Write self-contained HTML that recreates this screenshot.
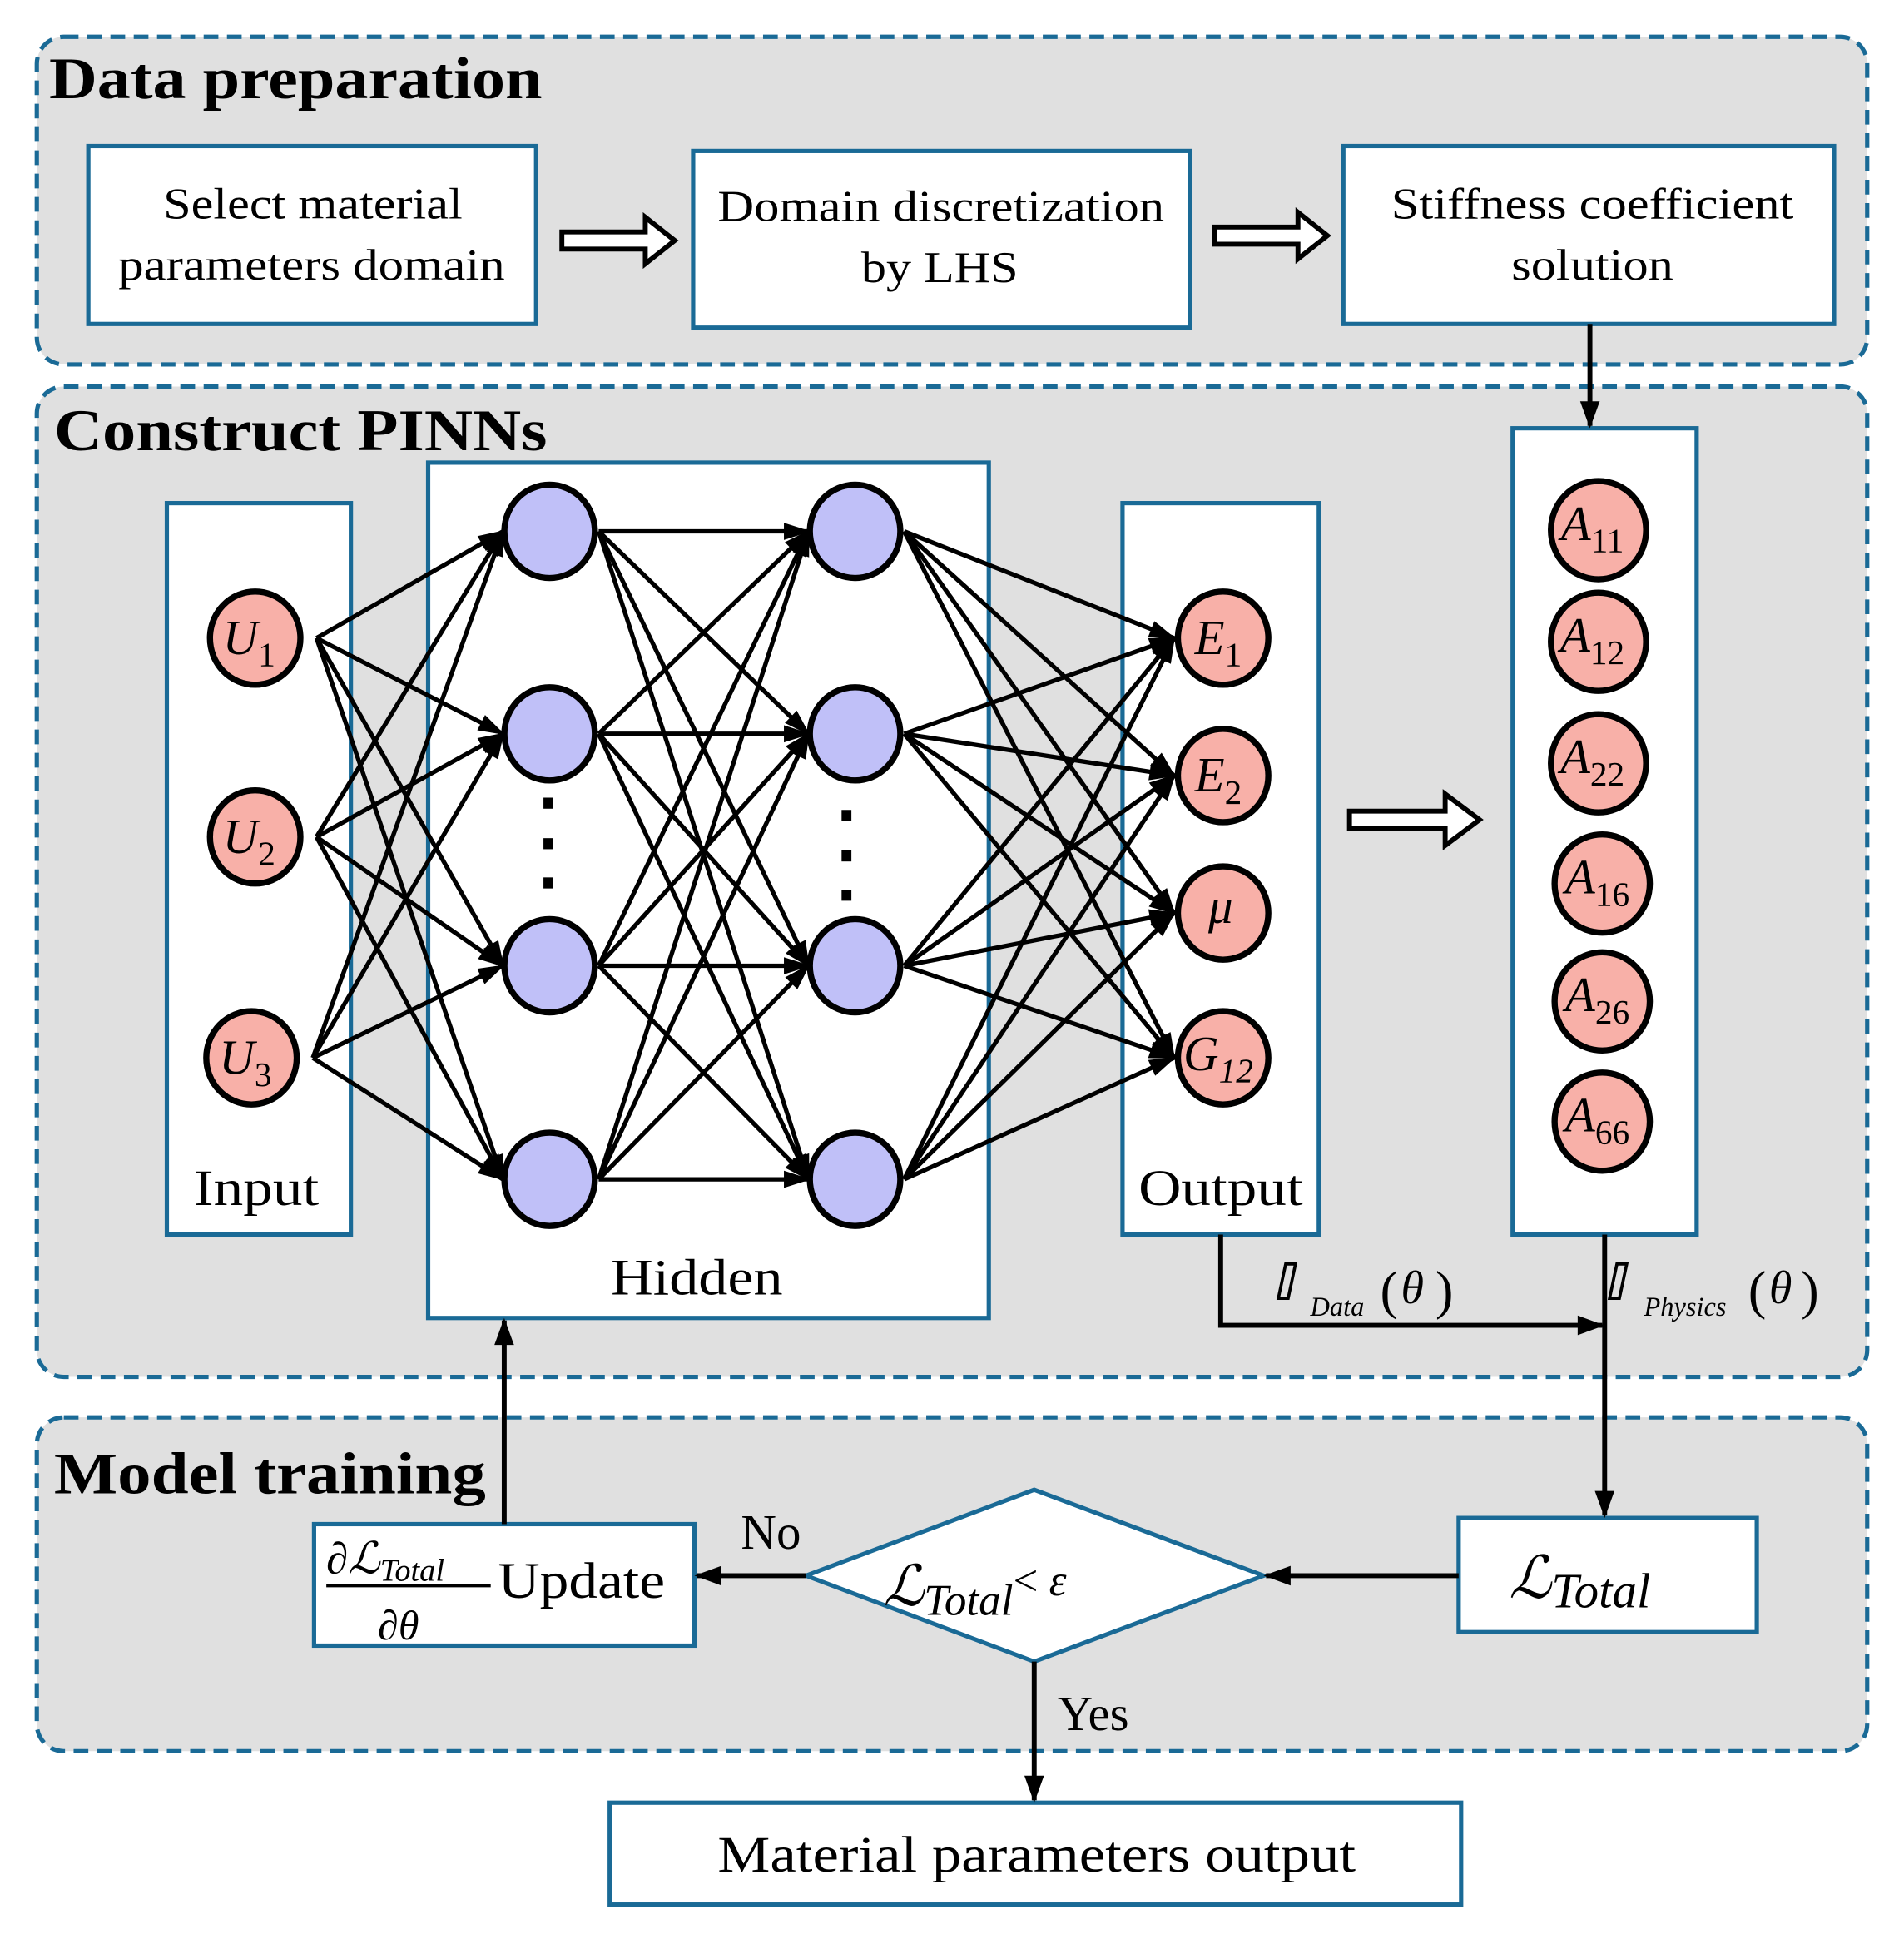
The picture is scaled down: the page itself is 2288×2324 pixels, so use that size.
<!DOCTYPE html>
<html><head><meta charset="utf-8"><style>
html,body{margin:0;padding:0;background:#fff}
svg{display:block}
text{font-family:"Liberation Serif",serif;fill:#000}
</style></head><body>
<svg id="s" width="2288" height="2324" viewBox="0 0 1552 1576" preserveAspectRatio="none" xmlns="http://www.w3.org/2000/svg">
<defs>
<marker id="ah" markerWidth="30" markerHeight="30" refX="22" refY="15" orient="auto" markerUnits="userSpaceOnUse"><path d="M2,8 L24,15 L2,22 z" fill="#000"/></marker>
<marker id="a2" markerWidth="26" markerHeight="26" refX="22" refY="13" orient="auto" markerUnits="userSpaceOnUse"><path d="M2,5 L24,13 L2,21 z" fill="#000"/></marker>
</defs>
<g fill="#e0e0e0" stroke="#1a6a96" stroke-width="3.5" stroke-dasharray="12,7">
<rect x="30" y="30" width="1492" height="267" rx="22"/>
<rect x="30" y="315" width="1492" height="807" rx="22"/>
<rect x="30" y="1155" width="1492" height="272" rx="22"/>
</g>
<g font-weight="bold" font-size="48" lengthAdjust="spacingAndGlyphs">
<text x="40" y="80" textLength="402" lengthAdjust="spacingAndGlyphs">Data preparation</text>
<text x="44" y="367" textLength="402" lengthAdjust="spacingAndGlyphs">Construct PINNs</text>
<text x="44" y="1217" textLength="352" lengthAdjust="spacingAndGlyphs">Model training</text>
</g>
<g fill="#fff" stroke="#1a6a96" stroke-width="3.5">
<rect x="72" y="119" width="365" height="145"/>
<rect x="565" y="123" width="405" height="144"/>
<rect x="1095" y="119" width="400" height="145"/>
<rect x="136" y="410" width="150" height="596"/>
<rect x="349" y="377" width="457" height="697"/>
<rect x="915" y="410" width="160" height="596"/>
<rect x="1233" y="349" width="150" height="657"/>
<rect x="256" y="1242" width="310" height="99"/>
<rect x="1189" y="1237" width="243" height="93"/>
<rect x="497" y="1469" width="694" height="83"/>
<polygon points="657,1284 843,1214 1030,1284 843,1354"/>
</g>
<g font-size="36" text-anchor="middle">
<text x="255" y="178" textLength="244" lengthAdjust="spacingAndGlyphs">Select material</text>
<text x="254" y="228" textLength="315" lengthAdjust="spacingAndGlyphs">parameters domain</text>
<text x="767" y="180" textLength="364" lengthAdjust="spacingAndGlyphs">Domain discretization</text>
<text x="766" y="230" textLength="128" lengthAdjust="spacingAndGlyphs">by LHS</text>
<text x="1298" y="178" textLength="328" lengthAdjust="spacingAndGlyphs">Stiffness coefficient</text>
<text x="1298" y="228" textLength="132" lengthAdjust="spacingAndGlyphs">solution</text>
<text x="209" y="982" font-size="42" textLength="102" lengthAdjust="spacingAndGlyphs">Input</text>
<text x="995" y="982" font-size="42" textLength="134" lengthAdjust="spacingAndGlyphs">Output</text>
<text x="568" y="1055" font-size="42" textLength="140" lengthAdjust="spacingAndGlyphs">Hidden</text>
<text x="845" y="1525" font-size="42" textLength="520" lengthAdjust="spacingAndGlyphs">Material parameters output</text>
</g>
<g fill="#fff" stroke="#000" stroke-width="4">
<path d="M458,189 h68 v-12 l24,19 l-24,19 v-12 h-68 z"/>
<path d="M990,185 h68 v-12 l24,19 l-24,19 v-12 h-68 z"/>
<path d="M1100,661 h78 v-14 l28,21 l-28,21 v-14 h-78 z"/>
</g>
<g id="edges" stroke="#000" stroke-width="3.6" fill="none"></g>
<g id="nodes" stroke="#000" stroke-width="5"></g>
<g fill="#000">
<rect x="443" y="650" width="8" height="9"/><rect x="443" y="683" width="8" height="9"/><rect x="443" y="715" width="8" height="9"/>
<rect x="686" y="660" width="8" height="9"/><rect x="686" y="693" width="8" height="9"/><rect x="686" y="725" width="8" height="9"/>
</g>
<g font-size="40" font-style="italic" text-anchor="middle">
<text x="203" y="533">U<tspan font-size="28" font-style="normal" dy="10">1</tspan></text>
<text x="203" y="695">U<tspan font-size="28" font-style="normal" dy="10">2</tspan></text>
<text x="200" y="875">U<tspan font-size="28" font-style="normal" dy="10">3</tspan></text>
<text x="993" y="533">E<tspan font-size="28" font-style="normal" dy="10">1</tspan></text>
<text x="993" y="645">E<tspan font-size="28" font-style="normal" dy="10">2</tspan></text>
<text x="995" y="752">μ</text>
<text x="993" y="872">G<tspan font-size="28" dy="10">12</tspan></text>
<text x="1298" y="440">A<tspan font-size="28" font-style="normal" dy="10">11</tspan></text>
<text x="1298" y="531">A<tspan font-size="28" font-style="normal" dy="10">12</tspan></text>
<text x="1298" y="630">A<tspan font-size="28" font-style="normal" dy="10">22</tspan></text>
<text x="1302" y="728">A<tspan font-size="28" font-style="normal" dy="10">16</tspan></text>
<text x="1302" y="824">A<tspan font-size="28" font-style="normal" dy="10">26</tspan></text>
<text x="1302" y="922">A<tspan font-size="28" font-style="normal" dy="10">66</tspan></text>
</g>
<g stroke="#000" stroke-width="4" fill="none">
<line x1="1296" y1="264" x2="1296" y2="347" marker-end="url(#a2)"/>
<polyline points="995,1006 995,1080 1306,1080" marker-end="url(#a2)"/>
<line x1="1308" y1="1006" x2="1308" y2="1235" marker-end="url(#a2)"/>
<line x1="1189" y1="1284" x2="1032" y2="1284" marker-end="url(#a2)"/>
<line x1="657" y1="1284" x2="568" y2="1284" marker-end="url(#a2)"/>
<line x1="411" y1="1242" x2="411" y2="1076" marker-end="url(#a2)"/>
<line x1="843" y1="1354" x2="843" y2="1467" marker-end="url(#a2)"/>
</g>
<g stroke="#000" stroke-width="2.5" fill="none">
<polygon points="1048,1030 1056,1030 1050,1058 1042,1058" />
<polygon points="1318,1030 1326,1030 1320,1058 1312,1058" />
</g>
<g font-style="italic">
<text x="1068" y="1072" font-size="22">Data</text>
<text x="1125" y="1066" font-size="44" font-style="normal">(</text><text x="1142" y="1062" font-size="38">θ</text><text x="1170" y="1066" font-size="44" font-style="normal">)</text>
<text x="1340" y="1072" font-size="22">Physics</text>
<text x="1425" y="1066" font-size="44" font-style="normal">(</text><text x="1442" y="1062" font-size="38">θ</text><text x="1468" y="1066" font-size="44" font-style="normal">)</text>
</g>
<text x="604" y="1262" font-size="40">No</text>
<text x="862" y="1410" font-size="40">Yes</text>
<text x="406" y="1302" font-size="42" textLength="136" lengthAdjust="spacingAndGlyphs">Update</text>
<line x1="266" y1="1292" x2="400" y2="1292" stroke="#000" stroke-width="3"/>
<g font-style="italic">
<text x="266" y="1282" font-size="36">∂ℒ<tspan font-size="26" dy="6">Total</tspan></text>
<text x="308" y="1336" font-size="34">∂θ</text>
<text x="720" y="1308" font-size="46">ℒ<tspan font-size="36" dy="8">Total</tspan><tspan font-style="normal" font-size="36" dy="-16">&lt; </tspan><tspan font-size="36">ε</tspan></text>
<text x="1230" y="1302" font-size="48">ℒ<tspan font-size="40" dy="8">Total</tspan></text>
</g>
</svg>
<script>
var NS="http://www.w3.org/2000/svg";
var E=document.getElementById("edges"),N=document.getElementById("nodes");
function ln(x1,y1,x2,y2){var l=document.createElementNS(NS,"line");l.setAttribute("x1",x1);l.setAttribute("y1",y1);l.setAttribute("x2",x2);l.setAttribute("y2",y2);l.setAttribute("marker-end","url(#ah)");E.appendChild(l);}
function c(x,y,r,f){var e=document.createElementNS(NS,"ellipse");e.setAttribute("cx",x);e.setAttribute("cy",y);e.setAttribute("rx",r*0.97);e.setAttribute("ry",r);e.setAttribute("fill",f);N.appendChild(e);}
var inp=[[208,520],[208,682],[205,862]],hy=[433,598,787,961],out=[520,632,744,862],ay=[432,523,622,720,816,914];
inp.forEach(function(p){hy.forEach(function(y){ln(p[0]+50,p[1],410,y);});});
hy.forEach(function(a){hy.forEach(function(b){ln(488,a,659,b);});});
hy.forEach(function(a){out.forEach(function(b){ln(737,a,957,b);});});
inp.forEach(function(p){c(p[0],p[1],38,"#f8b0a8");});
hy.forEach(function(y){c(448,y,38,"#c0c0f8");c(697,y,38,"#c0c0f8");});
out.forEach(function(y){c(997,y,38,"#f8b0a8");});
ay.forEach(function(y,i){c(i>2?1306:1303,y,40,"#f8b0a8");});
</script>
</body></html>
